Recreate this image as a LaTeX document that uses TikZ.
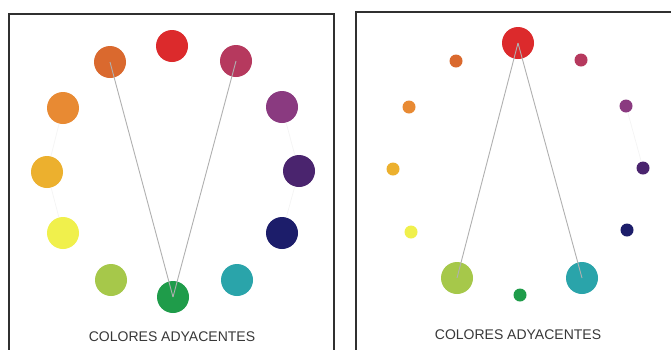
\documentclass[tikz,border=0pt]{standalone}
\usepackage{fontspec}
\setmainfont{Liberation Sans}
\definecolor{cRed}{HTML}{DC2A2C}
\definecolor{cRedViolet}{HTML}{B6395E}
\definecolor{cPurple}{HTML}{8A3A80}
\definecolor{cDarkPurple}{HTML}{4A246E}
\definecolor{cNavy}{HTML}{1C1D6A}
\definecolor{cTeal}{HTML}{2AA4AA}
\definecolor{cGreen}{HTML}{1F9C4A}
\definecolor{cYellowGreen}{HTML}{A6C84A}
\definecolor{cYellow}{HTML}{F0F04C}
\definecolor{cYellowOrange}{HTML}{ECB02E}
\definecolor{cOrange}{HTML}{E88A33}
\definecolor{cRedOrange}{HTML}{DA692E}
\definecolor{frameGray}{HTML}{303030}
\definecolor{textGray}{HTML}{383838}
\definecolor{lineGray}{HTML}{B0B0B0}
\tikzset{
  big/.style={circle, inner sep=0pt, minimum size=32pt},
  small/.style={circle, inner sep=0pt, minimum size=13pt},
  panelframe/.style={draw=frameGray, line width=1.6pt},
  link/.style={draw=lineGray, line width=0.9pt},
  faint/.style={draw=lineGray!15, line width=0.6pt},
  caption/.style={text=textGray, font=\fontsize{14}{16}\selectfont}
}
\begin{document}
\begin{tikzpicture}[x=1pt,y=-1pt]
\useasboundingbox (0,0) rectangle (671,349);
\fill[white] (0,0) rectangle (671,349);
% frames
\draw[panelframe] (9,360) -- (9,14) -- (334,14) -- (334,360);
\draw[panelframe] (356,360) -- (356,12) -- (680,12);
% left wheel
\node[big, fill=cRed] (l1) at (172,46) {};
\node[big, fill=cRedViolet] (l2) at (236,61) {};
\node[big, fill=cPurple] (l3) at (282,107) {};
\node[big, fill=cDarkPurple] (l4) at (299,171) {};
\node[big, fill=cNavy] (l5) at (282,233) {};
\node[big, fill=cTeal] (l6) at (237,280) {};
\node[big, fill=cGreen] (l7) at (173,297) {};
\node[big, fill=cYellowGreen] (l8) at (111,280) {};
\node[big, fill=cYellow] (l9) at (63,233) {};
\node[big, fill=cYellowOrange] (l10) at (47,172) {};
\node[big, fill=cOrange] (l11) at (63,108) {};
\node[big, fill=cRedOrange] (l12) at (110,62) {};
\draw[link] (l12.center) -- (l7.center);
\draw[link] (l2.center) -- (l7.center);
\draw[faint] (l11) -- (l10);
\draw[faint] (l10) -- (l9);
\draw[faint] (l3) -- (l4);
\draw[faint] (l4) -- (l5);
\node[caption] (lcap) at (172,337) {COLORES ADYACENTES};
% right wheel
\node[big, fill=cRed] (r1) at (518,43) {};
\node[small, fill=cRedViolet] (r2) at (581,60) {};
\node[small, fill=cPurple] (r3) at (626,106) {};
\node[small, fill=cDarkPurple] (r4) at (643,168) {};
\node[small, fill=cNavy] (r5) at (627,230) {};
\node[big, fill=cTeal] (r6) at (582,278) {};
\node[small, fill=cGreen] (r7) at (520,295) {};
\node[big, fill=cYellowGreen] (r8) at (457,278) {};
\node[small, fill=cYellow] (r9) at (411,232) {};
\node[small, fill=cYellowOrange] (r10) at (393,169) {};
\node[small, fill=cOrange] (r11) at (409,107) {};
\node[small, fill=cRedOrange] (r12) at (456,61) {};
\draw[link] (r1.center) -- (r8.center);
\draw[link] (r1.center) -- (r6.center);
\draw[faint] (r3) -- (r4);
\node[caption] (rcap) at (518,335) {COLORES ADYACENTES};
\end{tikzpicture}
\end{document}
